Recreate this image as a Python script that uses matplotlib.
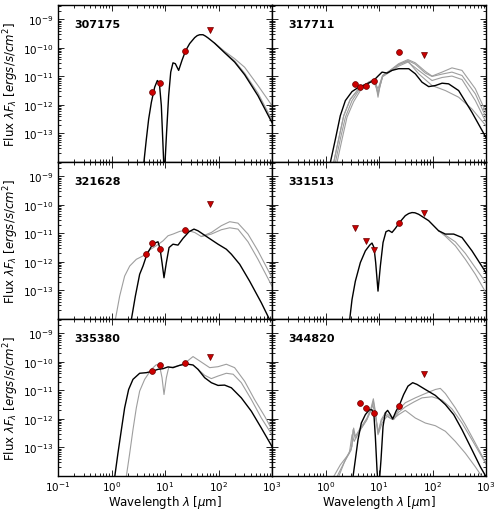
import numpy as np
import matplotlib
matplotlib.use("Agg")
import matplotlib.pyplot as plt
from matplotlib.ticker import LogLocator, FuncFormatter, NullFormatter

# ---------------- data (wavelength in micron, flux in erg/s/cm^2) ----------------
names = ["307175", "317711", "321628", "331513", "335380", "344820"]

# panel 1 : 307175
p1_black_lam = [3.9, 4.48, 4.95, 5.56, 6.41, 7.19, 7.84, 8.54, 9.18, 9.58, 9.86, 10.7, 11.7, 12.8, 14.1, 15.6, 18.0, 20.8, 24.3, 28.9, 35.9, 40.0, 44.5, 51.3, 57.0, 63.6, 84.8, 130, 200, 308, 547, 1000]
p1_black_f = [5.5e-15, 6.3e-14, 3.2e-13, 1.24e-12, 4.2e-12, 7.2e-12, 6.0e-12, 9.5e-13, 3.7e-14, 5.5e-15, 5.5e-15, 1.08e-13, 2.1e-12, 1.42e-11, 3.0e-11, 2.8e-11, 1.63e-11, 3.7e-11, 8.0e-11, 1.42e-10, 2.3e-10, 2.7e-10, 2.9e-10, 2.9e-10, 2.6e-10, 2.25e-10, 1.46e-10, 6.8e-11, 3.2e-11, 1.15e-11, 2.1e-12, 2.4e-13]
p1_gray1_lam = [84.8, 130, 200, 308, 547, 1000]
p1_gray1_f = [1.46e-10, 7.6e-11, 4.2e-11, 2.1e-11, 4.8e-12, 9.5e-13]
p1_gray2_lam = [84.8, 130, 200, 308, 547, 1000]
p1_gray2_f = [1.46e-10, 7.0e-11, 3.5e-11, 1.3e-11, 2.6e-12, 3.0e-13]
p1_det_lam = [5.8, 8.0, 24.0]
p1_det_f = [2.8e-12, 6.1e-12, 8.0e-11]
p1_lim_lam = [70.0]
p1_lim_f = [4.1e-10]

# panel 2 : 317711
p2_black_lam = [1.23, 1.53, 1.89, 2.35, 3.13, 4.17, 5.97, 7.94, 9.58, 11.4, 14.1, 17.5, 23.3, 35.9, 47.7, 63.6, 84.8, 113, 151, 200, 308, 547, 1000]
p2_black_f = [9.5e-15, 6.3e-14, 4.2e-13, 1.42e-12, 2.95e-12, 4.2e-12, 5.5e-12, 7.2e-12, 1.03e-11, 1.42e-11, 1.31e-11, 1.63e-11, 1.87e-11, 1.87e-11, 1.24e-11, 6.3e-12, 4.4e-12, 4.8e-12, 5.8e-12, 5.5e-12, 3.2e-12, 5.5e-13, 7.2e-14]
p2_gray1_lam = [1.42, 1.76, 2.19, 2.91, 4.17, 6.41, 7.94, 8.8, 9.58, 10.4, 11.7, 15.2, 23.3, 34.8, 47.7, 73.5, 98, 151, 231, 356, 632, 1000]
p2_gray1_f = [9.5e-15, 6.3e-14, 4.2e-13, 1.63e-12, 3.7e-12, 6.3e-12, 7.8e-12, 5.5e-12, 2.25e-12, 4.8e-12, 1.08e-11, 1.5e-11, 2.8e-11, 3.9e-11, 3.0e-11, 1.5e-11, 1.03e-11, 1.42e-11, 2.0e-11, 1.63e-11, 3.7e-12, 5.5e-13]
p2_gray2_lam = [1.53, 1.89, 2.35, 3.13, 4.3, 6.41, 7.94, 8.8, 9.58, 10.4, 11.7, 15.2, 23.3, 34.8, 47.7, 73.5, 98, 151, 231, 356, 632, 1000]
p2_gray2_f = [9.5e-15, 6.3e-14, 3.7e-13, 1.42e-12, 3.5e-12, 6.0e-12, 7.4e-12, 5.1e-12, 1.87e-12, 4.4e-12, 1.03e-11, 1.42e-11, 2.6e-11, 3.6e-11, 2.7e-11, 1.31e-11, 1.0e-11, 1.21e-11, 1.42e-11, 1.08e-11, 2.45e-12, 3.7e-13]
p2_gray3_lam = [1.64, 2.04, 2.52, 3.36, 4.48, 6.41, 7.94, 9.58, 11.7, 23.3, 34.8, 55.1, 98, 151, 231, 356, 632, 1000]
p2_gray3_f = [9.5e-15, 6.3e-14, 3.7e-13, 1.31e-12, 3.2e-12, 5.8e-12, 7.0e-12, 2.65e-12, 9.8e-12, 2.3e-11, 3.2e-11, 1.63e-11, 7.2e-12, 9.2e-12, 1.03e-11, 7.8e-12, 1.42e-12, 2.5e-13]
p2_gray4_lam = [1.42, 1.76, 2.19, 2.91, 4.17, 6.41, 7.94, 9.58, 11.7, 23.3, 34.8, 55.1, 98, 174, 308, 547, 1000]
p2_gray4_f = [9.5e-15, 6.3e-14, 4.2e-13, 1.54e-12, 3.7e-12, 6.3e-12, 7.8e-12, 3.7e-12, 1.08e-11, 2.6e-11, 3.4e-11, 1.24e-11, 4.8e-12, 3.2e-12, 1.87e-12, 7.2e-13, 1.87e-13]
p2_det_lam = [3.6, 4.5, 5.8, 8.0, 24.0]
p2_det_f = [5.4e-12, 4.2e-12, 4.8e-12, 6.7e-12, 7.4e-11]
p2_lim_lam = [70.0]
p2_lim_f = [5.7e-11]

# panel 3 : 321628
p3_black_lam = [2.35, 2.79, 3.36, 3.88, 4.6, 5.56, 6.41, 7.4, 8.07, 8.8, 9.58, 10.6, 11.9, 14.1, 17.5, 21.7, 28.1, 34.8, 41.4, 63.6, 98, 140, 174, 249, 383, 632, 841, 973]
p3_black_f = [9.5e-15, 6.3e-14, 3.7e-13, 7.2e-13, 1.87e-12, 3.5e-12, 4.6e-12, 5.1e-12, 2.95e-12, 9.5e-13, 2.8e-13, 9.5e-13, 3.2e-12, 4.2e-12, 3.9e-12, 6.7e-12, 1.15e-11, 1.42e-11, 1.24e-11, 7.2e-12, 4.2e-12, 2.8e-12, 1.87e-12, 8.3e-13, 2.1e-13, 3.7e-14, 1.24e-14, 7.2e-15]
p3_gray1_lam = [1.18, 1.42, 1.76, 2.19, 2.91, 3.88, 5.16, 6.88, 9.18, 11.4, 14.1, 18.8, 25.1, 35.9, 47.7, 73.5, 113, 162, 231, 356, 547, 1000]
p3_gray1_f = [9.5e-15, 6.3e-14, 3.2e-13, 7.2e-13, 1.24e-12, 1.63e-12, 2.65e-12, 3.7e-12, 5.5e-12, 8.3e-12, 9.5e-12, 1.18e-11, 1.31e-11, 1.08e-11, 7.8e-12, 1.08e-11, 1.87e-11, 2.58e-11, 2.3e-11, 9.5e-12, 2.45e-12, 2.8e-13]
p3_gray2_lam = [47.7, 73.5, 113, 162, 231, 356, 547, 1000]
p3_gray2_f = [7.8e-12, 9.5e-12, 1.35e-11, 1.58e-11, 1.42e-11, 5.1e-12, 1.24e-12, 1.42e-13]
p3_det_lam = [4.5, 5.8, 8.0, 24.0]
p3_det_f = [1.87e-12, 4.8e-12, 2.95e-12, 1.28e-11]
p3_lim_lam = [70.0]
p3_lim_f = [1.06e-10]

# panel 4 : 331513
p4_black_lam = [2.83, 3.13, 3.61, 4.48, 5.56, 6.7, 7.4, 8.07, 8.67, 9.58, 10.6, 11.9, 13.5, 15.2, 17.5, 20.2, 24.3, 31.0, 36.0, 41.4, 47.0, 55.1, 84.8, 130, 174, 249, 356, 547, 1000]
p4_black_f = [9.5e-15, 4.8e-14, 2.1e-13, 9.5e-13, 2.45e-12, 3.9e-12, 4.6e-12, 3.2e-12, 9.5e-13, 9.5e-14, 7.2e-13, 4.8e-12, 1.15e-11, 1.28e-11, 1.08e-11, 1.5e-11, 2.45e-11, 4.2e-11, 5.0e-11, 5.4e-11, 5.3e-11, 4.7e-11, 2.8e-11, 1.24e-11, 9.5e-12, 9.5e-12, 7.2e-12, 2.45e-12, 4.2e-13]
p4_gray1_lam = [130, 174, 267, 411, 632, 1000]
p4_gray1_f = [1.24e-11, 8.7e-12, 5.1e-12, 2.0e-12, 6.3e-13, 1.86e-13]
p4_gray2_lam = [130, 174, 267, 411, 632, 1000]
p4_gray2_f = [1.24e-11, 8.0e-12, 3.7e-12, 1.24e-12, 3.7e-13, 8.3e-14]
p4_det_lam = [24.0]
p4_det_f = [2.3e-11]
p4_lim_lam = [3.6, 5.8, 8.0, 70.0]
p4_lim_f = [1.58e-11, 5.4e-12, 2.7e-12, 5.1e-11]

# panel 5 : 335380
p5_black_lam = [1.15, 1.32, 1.53, 1.76, 2.09, 2.52, 3.36, 4.48, 5.8, 7.4, 9.18, 11.4, 14.1, 18.8, 25.1, 33.4, 41.4, 55.1, 73.5, 98, 130, 174, 267, 411, 632, 1000]
p5_black_f = [9.5e-15, 6.3e-14, 4.2e-13, 2.45e-12, 1.08e-11, 2.45e-11, 4.0e-11, 4.2e-11, 4.7e-11, 5.5e-11, 5.8e-11, 6.7e-11, 6.3e-11, 7.6e-11, 8.5e-11, 7.8e-11, 5.5e-11, 2.8e-11, 1.87e-11, 1.5e-11, 1.54e-11, 1.24e-11, 5.5e-12, 1.87e-12, 4.8e-13, 1.08e-13]
p5_gray1_lam = [1.89, 2.19, 2.52, 2.91, 3.36, 4.17, 5.56, 6.88, 7.94, 8.8, 9.58, 10.6, 11.7, 14.1, 18.8, 25.1, 33.4, 44.5, 68.4, 98, 140, 200, 308, 472, 730, 1000]
p5_gray1_f = [9.5e-15, 6.3e-14, 4.2e-13, 2.45e-12, 9.5e-12, 2.45e-11, 5.5e-11, 8.0e-11, 7.2e-11, 2.8e-11, 7.2e-12, 2.8e-11, 6.3e-11, 6.6e-11, 7.6e-11, 1.0e-10, 1.54e-10, 1.08e-10, 6.3e-11, 6.8e-11, 8.3e-11, 6.3e-11, 2.1e-11, 4.8e-12, 1.24e-12, 4.2e-13]
p5_gray2_lam = [41.4, 55.1, 73.5, 98, 140, 188, 267, 411, 632, 1000]
p5_gray2_f = [5.5e-11, 3.4e-11, 2.6e-11, 3.2e-11, 4.0e-11, 3.7e-11, 1.87e-11, 4.8e-12, 1.08e-12, 2.8e-13]
p5_det_lam = [5.8, 8.0, 24.0]
p5_det_f = [4.7e-11, 7.6e-11, 9.0e-11]
p5_lim_lam = [70.0]
p5_lim_f = [1.5e-10]

# panel 6 : 344820
p6_black_lam = [3.27, 3.61, 4.05, 4.67, 5.56, 6.6, 7.4, 8.07, 8.54, 9.18, 9.58, 10.1, 10.9, 11.9, 13.1, 14.5, 16.3, 18.0, 20.8, 24.3, 28.9, 34.8, 42.6, 51.3, 73.5, 113, 174, 249, 356, 547, 784, 1000]
p6_black_f = [9.5e-15, 3.7e-14, 1.86e-13, 7.2e-13, 1.42e-12, 2.1e-12, 2.1e-12, 1.24e-12, 2.45e-13, 1.63e-14, 5.5e-15, 5.5e-15, 3.7e-14, 5.5e-13, 1.63e-12, 2.0e-12, 1.42e-12, 1.0e-12, 1.87e-12, 3.2e-12, 7.2e-12, 1.42e-11, 1.87e-11, 1.63e-11, 1.08e-11, 6.7e-12, 3.2e-12, 1.42e-12, 4.2e-13, 8.3e-14, 2.1e-14, 9.5e-15]
p6_gray1_lam = [1.76, 2.35, 3.13, 3.36, 3.61, 4.48, 5.97, 7.19, 7.84, 8.54, 9.58, 11.0, 13.1, 16.3, 18.8, 23.3, 31.0, 47.7, 73.5, 113, 140, 174, 267, 411, 632, 1000]
p6_gray1_f = [9.5e-15, 3.7e-14, 1.08e-13, 4.8e-13, 2.45e-13, 4.8e-13, 1.08e-12, 2.65e-12, 5.1e-12, 1.87e-12, 3.2e-13, 9.5e-13, 1.63e-12, 1.24e-12, 1.08e-12, 2.1e-12, 3.7e-12, 5.5e-12, 7.8e-12, 1.08e-11, 1.18e-11, 7.8e-12, 2.45e-12, 6.3e-13, 1.42e-13, 2.8e-14]
p6_gray2_lam = [1.64, 2.19, 3.03, 3.27, 3.61, 4.48, 5.97, 7.19, 7.84, 8.54, 9.58, 11.0, 13.1, 16.3, 18.8, 23.3, 31.0, 44.5, 63.6, 98, 151, 231, 356, 547, 1000]
p6_gray2_f = [9.5e-15, 2.8e-14, 8.3e-14, 4.2e-13, 2.0e-13, 4.2e-13, 9.5e-13, 2.25e-12, 4.2e-12, 1.54e-12, 2.8e-13, 8.3e-13, 1.42e-12, 1.08e-12, 9.5e-13, 1.72e-12, 2.65e-12, 3.9e-12, 5.5e-12, 6.0e-12, 4.6e-12, 2.25e-12, 7.2e-13, 1.86e-13, 2.65e-14]
p6_gray3_lam = [1.42, 1.89, 2.79, 3.13, 3.43, 4.3, 5.67, 6.98, 7.67, 8.54, 9.86, 11.4, 14.1, 18.0, 23.3, 31.0, 47.7, 73.5, 113, 174, 267, 411, 632, 841]
p6_gray3_f = [9.5e-15, 2.45e-14, 6.3e-14, 2.8e-13, 1.63e-13, 3.7e-13, 8.3e-13, 1.87e-12, 3.2e-12, 1.24e-12, 3.2e-13, 7.2e-13, 1.24e-12, 9.5e-13, 1.42e-12, 2.0e-12, 1.08e-12, 7.2e-13, 5.8e-13, 3.7e-13, 1.63e-13, 6.3e-14, 2.1e-14, 9.5e-15]
p6_det_lam = [4.5, 5.8, 8.0, 24.0]
p6_det_f = [3.7e-12, 2.5e-12, 1.58e-12, 2.95e-12]
p6_lim_lam = [70.0]
p6_lim_f = [3.9e-11]

panels = [
    (names[0], (p1_black_lam, p1_black_f), [(p1_gray1_lam, p1_gray1_f), (p1_gray2_lam, p1_gray2_f)],
     (p1_det_lam, p1_det_f), (p1_lim_lam, p1_lim_f)),
    (names[1], (p2_black_lam, p2_black_f), [(p2_gray1_lam, p2_gray1_f), (p2_gray2_lam, p2_gray2_f),
                                           (p2_gray3_lam, p2_gray3_f), (p2_gray4_lam, p2_gray4_f)],
     (p2_det_lam, p2_det_f), (p2_lim_lam, p2_lim_f)),
    (names[2], (p3_black_lam, p3_black_f), [(p3_gray1_lam, p3_gray1_f), (p3_gray2_lam, p3_gray2_f)],
     (p3_det_lam, p3_det_f), (p3_lim_lam, p3_lim_f)),
    (names[3], (p4_black_lam, p4_black_f), [(p4_gray1_lam, p4_gray1_f), (p4_gray2_lam, p4_gray2_f)],
     (p4_det_lam, p4_det_f), (p4_lim_lam, p4_lim_f)),
    (names[4], (p5_black_lam, p5_black_f), [(p5_gray1_lam, p5_gray1_f), (p5_gray2_lam, p5_gray2_f)],
     (p5_det_lam, p5_det_f), (p5_lim_lam, p5_lim_f)),
    (names[5], (p6_black_lam, p6_black_f), [(p6_gray1_lam, p6_gray1_f), (p6_gray2_lam, p6_gray2_f),
                                           (p6_gray3_lam, p6_gray3_f)],
     (p6_det_lam, p6_det_f), (p6_lim_lam, p6_lim_f)),
]

# ---------------- figure ----------------
W, H = 494, 510
fig = plt.figure(figsize=(W / 100, H / 100), dpi=100)

col_x = [58 / W, 272 / W]
ax_w = 214 / W
row_y = [1 - 163 / H, 1 - 320 / H, 1 - 477 / H]
ax_h = 157 / H

ylab_text = r"Flux $\lambda F_\lambda$ $[ergs/s/cm^2]$"

def ytick_fmt(v, pos):
    e = int(round(np.log10(v)))
    if -13 <= e <= -9:
        return r"$10^{%d}$" % e
    return ""

def xtick_fmt_left(v, pos):
    e = int(round(np.log10(v)))
    if -1 <= e <= 3:
        return r"$10^{%d}$" % e
    return ""

def xtick_fmt_right(v, pos):
    e = int(round(np.log10(v)))
    if 0 <= e <= 3:
        return r"$10^{%d}$" % e
    return ""

red = "#cc0000"
edge = "#6a0000"

for i, (name, blk, grays, det, lim) in enumerate(panels):
    r, c = divmod(i, 2)
    ax = fig.add_axes([col_x[c], row_y[r], ax_w, ax_h])
    ax.set_xscale("log")
    ax.set_yscale("log")
    for gl, gf in grays:
        ax.plot(gl, gf, color="0.62", lw=0.8, zorder=2)
    ax.plot(blk[0], blk[1], color="black", lw=1.0, zorder=3)
    ax.plot(det[0], det[1], "o", color=red, mec=edge, mew=0.5, ms=4.2, zorder=5)
    ax.plot(lim[0], lim[1], "v", color=red, mec=edge, mew=0.5, ms=4.2, zorder=5)
    ax.set_xlim(0.1, 1000)
    ax.set_ylim(1e-14, 3.2e-9)

    ax.xaxis.set_major_locator(LogLocator(base=10, numticks=10))
    ax.xaxis.set_minor_locator(LogLocator(base=10, subs=np.arange(2, 10), numticks=20))
    ax.yaxis.set_major_locator(LogLocator(base=10, numticks=10))
    ax.yaxis.set_minor_locator(LogLocator(base=10, subs=np.arange(2, 10), numticks=20))
    ax.xaxis.set_minor_formatter(NullFormatter())
    ax.yaxis.set_minor_formatter(NullFormatter())
    ax.tick_params(which="both", direction="in", top=True, right=True, labelsize=7.5, width=0.6)
    ax.tick_params(which="major", length=4)
    ax.tick_params(which="minor", length=2)
    ax.tick_params(axis="x", which="major", pad=2)
    for s in ax.spines.values():
        s.set_linewidth(1.0)

    if c == 0:
        ax.yaxis.set_major_formatter(FuncFormatter(ytick_fmt))
    else:
        ax.yaxis.set_major_formatter(NullFormatter())
    if r == 2:
        ax.xaxis.set_major_formatter(FuncFormatter(xtick_fmt_left if c == 0 else xtick_fmt_right))
        ax.set_xlabel(r"Wavelength $\lambda$ [$\mu$m]", fontsize=8.5, labelpad=0)
    else:
        ax.xaxis.set_major_formatter(NullFormatter())

    ax.text(0.078, 0.88, name, transform=ax.transAxes, fontsize=8, fontweight="bold",
            ha="left", va="center")

    if c == 0:
        yc = row_y[r] + ax_h / 2
        fig.text(11 / W, yc, ylab_text, rotation=90, ha="center", va="center", fontsize=8.5)

fig.savefig("out.png", dpi=100)
